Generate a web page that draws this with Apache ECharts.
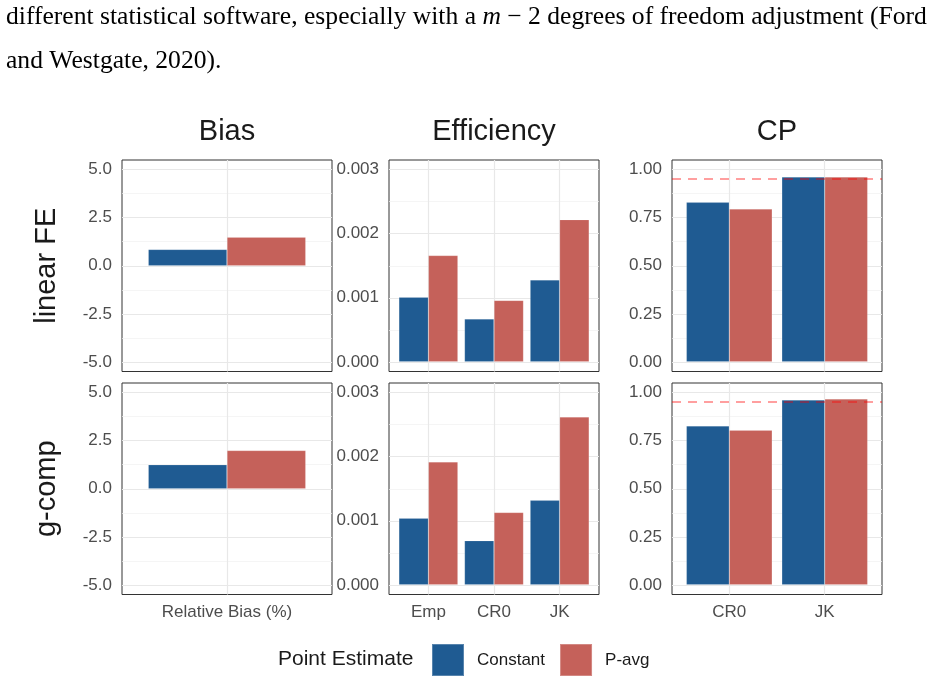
<!DOCTYPE html>
<html>
<head>
<meta charset="utf-8">
<script src="https://cdn.jsdelivr.net/npm/echarts@6/dist/echarts.min.js"></script>
<style>
  html, body { margin: 0; background: #fff; }
  #main { width: 932px; height: 682px; }
</style>
</head>
<body>
<div id="main"></div>
<script>
// data
var seriesNames = ['Constant', 'P-avg'];
var colTitles = ['Bias', 'Efficiency', 'CP'];
var rowNames = ['linear FE', 'g-comp'];

var biasCats = ['Relative Bias (%)'];
var effCats = ['Emp', 'CR0', 'JK'];
var cpCats = ['CR0', 'JK'];

var biasTicks = [-5, -2.5, 0, 2.5, 5];
var effTicks = [0, 0.001, 0.002, 0.003];
var cpTicks = [0, 0.25, 0.5, 0.75, 1];
var cpNominal = 0.95;

// linear FE
var biasLinConst = [0.85];
var biasLinPavg = [1.49];
var effLinConst = [0.00101, 0.00067, 0.00128];
var effLinPavg = [0.00166, 0.00096, 0.00222];
var cpLinConst = [0.83, 0.962];
var cpLinPavg = [0.795, 0.962];

// g-comp
var biasGcConst = [1.25];
var biasGcPavg = [1.99];
var effGcConst = [0.00104, 0.00069, 0.00132];
var effGcPavg = [0.00192, 0.00113, 0.00262];
var cpGcConst = [0.827, 0.962];
var cpGcPavg = [0.805, 0.967];

var colors = ['#1f5b92', '#c5615a'];
var sans = 'Liberation Sans, Arial, sans-serif';

var cols = [
  { cats: biasCats, ticks: biasTicks, dec: 1 },
  { cats: effCats, ticks: effTicks, dec: 3 },
  { cats: cpCats, ticks: cpTicks, dec: 2, ref: cpNominal }
];
var values = [
  [[biasLinConst, biasLinPavg], [effLinConst, effLinPavg], [cpLinConst, cpLinPavg]],
  [[biasGcConst, biasGcPavg], [effGcConst, effGcPavg], [cpGcConst, cpGcPavg]]
];

var colLeft = [122, 389, 672], panelW = 210;
var rowTop = [160, 383], panelH = 211.5;

var grid = [], xAxis = [], yAxis = [], series = [], graphic = [];

for (var r = 0; r < 2; r++) {
  for (var c = 0; c < 3; c++) {
    var col = cols[c], n = col.cats.length;
    var lo = col.ticks[0], hi = col.ticks[col.ticks.length - 1];
    var step = col.ticks[1] - col.ticks[0];
    var pad = (hi - lo) * 0.05;
    var L = colLeft[c], T = rowTop[r];
    var u = panelW / (n + 0.2);
    var gi = grid.length;

    // frame (border only)
    grid.push({ left: L, top: T, width: panelW, height: panelH, show: true,
      borderColor: '#333333', borderWidth: 1, backgroundColor: 'transparent' });
    xAxis.push({ type: 'value', gridIndex: gi, show: false, min: 0, max: 1 });
    yAxis.push({ type: 'value', gridIndex: gi, show: false, min: 0, max: 1 });

    // horizontal grid lines + y labels
    var inset = panelH * pad / (hi - lo + 2 * pad);
    grid.push({ left: L, top: T + inset, width: panelW, height: panelH - 2 * inset });
    xAxis.push({ type: 'value', gridIndex: gi + 1, show: false, min: 0, max: 1 });
    yAxis.push({
      type: 'value', gridIndex: gi + 1, min: lo, max: hi, interval: step,
      axisLine: { show: false }, axisTick: { show: false },
      axisLabel: { color: '#4d4d4d', fontSize: 17, fontFamily: sans, margin: 10,
        formatter: (function (d) { return function (v) { return v.toFixed(d); }; })(col.dec) },
      splitLine: { lineStyle: { color: '#e8e8e8', width: 1.2 } },
      minorTick: { show: false, splitNumber: 2 },
      minorSplitLine: { show: true, lineStyle: { color: '#f1f1f1', width: 0.7 } }
    });

    // bars
    grid.push({ left: L + 0.1 * u, top: T, width: n * u, height: panelH });
    xAxis.push({
      type: 'category', gridIndex: gi + 2, data: col.cats,
      axisLine: { show: false }, axisTick: { show: false },
      axisLabel: { show: r === 1, color: '#4d4d4d', fontSize: 17, fontFamily: sans, margin: 9 },
      splitLine: { show: true, alignWithLabel: true, interval: 0, lineStyle: { color: '#e8e8e8', width: 1.2 } }
    });
    yAxis.push({ type: 'value', gridIndex: gi + 2, show: false, min: lo - pad, max: hi + pad });

    for (var s = 0; s < 2; s++) {
      series.push({
        name: seriesNames[s], type: 'bar', xAxisIndex: gi + 2, yAxisIndex: gi + 2,
        data: values[r][c][s], barGap: '0%', barCategoryGap: '10%',
        itemStyle: { color: colors[s], borderColor: 'rgba(255,255,255,0.25)', borderWidth: 0.6 },
        silent: true
      });
    }

    if (col.ref != null) {
      series.push({
        name: 'ref', type: 'line', xAxisIndex: gi + 1, yAxisIndex: gi + 1, data: [], z: 10,
        markLine: { silent: true, symbol: 'none', z: 10, label: { show: false },
          lineStyle: { color: 'rgba(255,0,0,0.5)', type: [9, 7], width: 1.5 },
          data: [{ yAxis: col.ref }] }
      });
    }
  }
}

colTitles.forEach(function (t, c) {
  graphic.push({ type: 'text', x: colLeft[c] + panelW / 2, y: 132,
    style: { text: t, fontSize: 29, fontFamily: sans, fill: '#1a1a1a',
      align: 'center', verticalAlign: 'middle', textAlign: 'center', textVerticalAlign: 'middle' } });
});
rowNames.forEach(function (t, r) {
  graphic.push({ type: 'text', x: 47, y: rowTop[r] + panelH / 2, rotation: Math.PI / 2,
    style: { text: t, fontSize: 29, fontFamily: sans, fill: '#1a1a1a',
      align: 'center', verticalAlign: 'middle', textAlign: 'center', textVerticalAlign: 'middle' } });
});
graphic.push({ type: 'text', x: 278, y: 659,
  style: { text: 'Point Estimate', fontSize: 21, fontFamily: sans, fill: '#1a1a1a',
    align: 'left', verticalAlign: 'middle', textAlign: 'left', textVerticalAlign: 'middle' } });

// paragraph text above the figure
var serif = 'Liberation Serif, Times New Roman, serif';
graphic.push({ type: 'text', x: 6, y: 17,
  style: { text: 'different statistical software, especially with a {m|m} \u2212 2 degrees of freedom adjustment (Ford',
    fontSize: 25.6, fontFamily: serif, fill: '#000',
    rich: { m: { fontStyle: 'italic', fontSize: 25.6, fontFamily: serif } },
    align: 'left', verticalAlign: 'middle', textAlign: 'left', textVerticalAlign: 'middle' } });
graphic.push({ type: 'text', x: 6, y: 61,
  style: { text: 'and Westgate, 2020).', fontSize: 25.6, fontFamily: serif, fill: '#000',
    align: 'left', verticalAlign: 'middle', textAlign: 'left', textVerticalAlign: 'middle' } });

var chart = echarts.init(document.getElementById('main'));
chart.setOption({
  animation: false,
  backgroundColor: '#fff',
  grid: grid,
  xAxis: xAxis,
  yAxis: yAxis,
  series: series,
  legend: {
    data: seriesNames, left: 426, top: 638, itemWidth: 32, itemHeight: 32, itemGap: 14,
    icon: 'rect', selectedMode: false,
    textStyle: { fontSize: 17, color: '#1a1a1a', fontFamily: sans, padding: [0, 0, 0, 8] }
  },
  graphic: graphic
});
</script>
</body>
</html>
